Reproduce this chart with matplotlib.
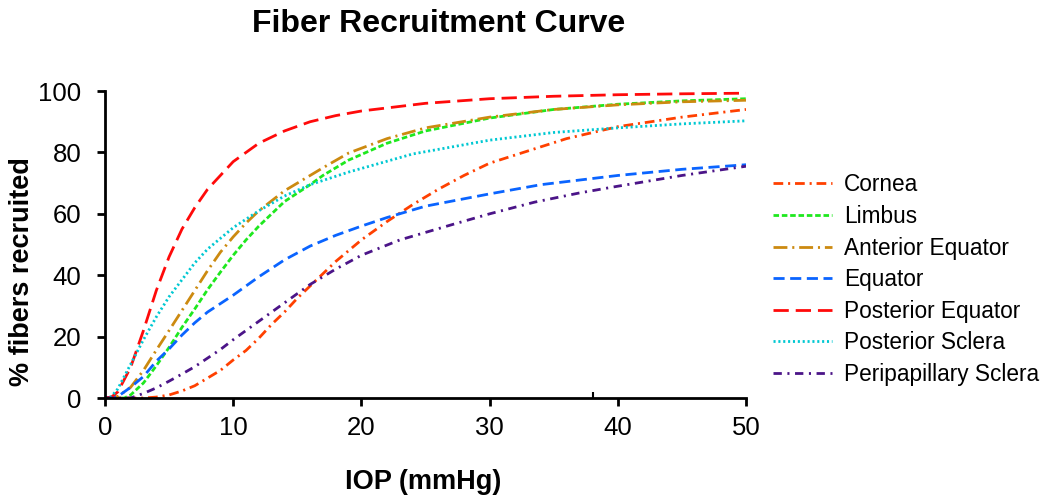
import matplotlib
matplotlib.use("Agg")
import matplotlib.pyplot as plt

plt.rcParams['font.family'] = ['Liberation Sans', 'DejaVu Sans']
plt.rcParams['lines.scale_dashes'] = False

title = "Fiber Recruitment Curve"
xlabel = "IOP (mmHg)"
ylabel = "% fibers recruited"
xticks = [0, 10, 20, 30, 40, 50]
yticks = [0, 20, 40, 60, 80, 100]

cornea_x = [0, 3, 4, 5, 6, 7, 8, 9, 10, 11, 12, 13, 14, 15, 16, 17, 18, 19, 20, 22, 24, 26, 28, 30, 33, 36, 40, 45, 50]
cornea_y = [0, 0, 0.3, 1, 2.3, 4, 6.5, 9, 12.4, 15.5, 19.5, 24, 28, 32.5, 36.5, 40.5, 44.5, 48, 51.5, 57.5, 63, 68, 72.5, 76.5, 80.5, 84.5, 88.4, 91.5, 94]

limbus_x = [0, 1.5, 2, 3, 4, 5, 6, 7, 8, 9, 10, 11, 12, 13, 14, 16, 17, 19, 22, 25, 30, 35, 40, 45, 50]
limbus_y = [0, 0, 1, 4.9, 10.5, 16.5, 23, 29, 35.3, 41, 46.5, 51.5, 56, 60, 64, 69.5, 72.5, 77.5, 83, 87, 91.2, 94, 95.7, 96.8, 97.5]

ant_eq_x = [0, 1, 2, 3, 4, 5, 6, 7, 8, 9, 10, 11, 12, 14, 16, 17, 19, 22, 25, 30, 35, 40, 45, 50]
ant_eq_y = [0, 0.5, 3.5, 9, 15.6, 22, 28.5, 35, 41.5, 47.5, 52.5, 57, 61, 67.5, 72.5, 75, 79.8, 84.5, 88, 91.5, 94, 95.5, 96.5, 97]

equator_x = [0, 1, 2, 3, 4, 5, 6, 7, 8, 10, 12, 14, 16, 18, 20, 22, 25, 30, 34, 40, 45, 50]
equator_y = [0, 0.5, 3.5, 7, 12, 16, 20.5, 24.5, 28, 33.5, 39.5, 45, 49.5, 53, 56, 58.8, 62.5, 66.5, 69.5, 72.5, 74.5, 76]

post_eq_x = [0, 0.5, 1, 2, 3, 4, 5, 6, 7, 8, 10, 12, 14, 16, 18, 20, 25, 30, 35, 40, 45, 50]
post_eq_y = [0, 0.3, 2, 10, 22, 35, 46, 55, 62, 68, 77, 83, 87, 90, 92, 93.5, 96, 97.5, 98.3, 98.8, 99.1, 99.3]

post_sc_x = [0, 0.5, 1, 1.5, 2, 3, 4, 5, 6, 7, 8, 10, 12, 14, 16, 19, 24, 30, 35, 40, 45, 50]
post_sc_y = [0, 0.5, 3, 7, 11, 19, 26.4, 33, 38.5, 44, 48.5, 55.5, 61, 65.8, 69.5, 73.6, 79.5, 84, 86.5, 88, 89.3, 90.3]

peri_x = [0, 2, 3, 4, 5, 6, 7, 8, 9, 10, 11, 12, 13, 14, 15, 16, 18, 20, 23, 27, 30, 33.5, 37, 40, 45, 50]
peri_y = [0, 0, 1.5, 3.3, 5.5, 7.8, 10.2, 13, 15.8, 19, 22, 25, 28, 31, 34, 37, 42, 46.5, 51.5, 56.4, 60, 63.8, 66.8, 69, 72.5, 75.5]

series = [
    ("Cornea", cornea_x, cornea_y, "#FF4000", (0, (7, 3.5, 1.5, 3.5))),
    ("Limbus", limbus_x, limbus_y, "#1EE81E", (0, (4, 2))),
    ("Anterior Equator", ant_eq_x, ant_eq_y, "#CC8A10", (0, (10, 3.5, 1.5, 3.5))),
    ("Equator", equator_x, equator_y, "#0A64FF", (0, (8, 4))),
    ("Posterior Equator", post_eq_x, post_eq_y, "#FF0A0A", (0, (11, 5))),
    ("Posterior Sclera", post_sc_x, post_sc_y, "#00C8D2", (0, (1.5, 2))),
    ("Peripapillary Sclera", peri_x, peri_y, "#4B1488", (0, (6, 4, 1.5, 4))),
]

fig = plt.figure(figsize=(10.5, 5.03), dpi=100)
ax = fig.add_axes([0.1, 0.2087, 0.6105, 0.6103])

for name, xs, ys, col, ls in series:
    ax.plot(xs, ys, color=col, linestyle=ls, lw=2.0, label=name)

ax.set_xlim(0, 50)
ax.set_ylim(0, 100)
ax.set_xticks(xticks)
ax.set_yticks(yticks)
ax.set_xticks([38.1], minor=True)
ax.tick_params(axis='both', which='major', direction='out', length=6, width=2, labelsize=18.5)
ax.tick_params(axis='x', which='major', pad=7)
ax.tick_params(axis='y', which='major', pad=11)
ax.tick_params(axis='x', which='minor', direction='in', length=4, width=1.5)
for s in ['top', 'right']:
    ax.spines[s].set_visible(False)
for s in ['left', 'bottom']:
    ax.spines[s].set_linewidth(2)

fig.text(0.4176, 0.936, title, ha='center', va='baseline', fontsize=23, fontweight='bold')
fig.text(0.4033, 0.028, xlabel, ha='center', va='baseline', fontsize=19.5, fontweight='bold')
fig.text(0.0205, 0.46, ylabel, ha='center', va='center', rotation=90, fontsize=19.5, fontweight='bold')

ax.legend(loc='center left', bbox_to_anchor=(0.736, 0.444), bbox_transform=fig.transFigure,
          frameon=False, fontsize=16.3, borderpad=0, borderaxespad=0,
          handlelength=2.6, handletextpad=0.55, labelspacing=0.38)

fig.savefig("out.png", dpi=100)
